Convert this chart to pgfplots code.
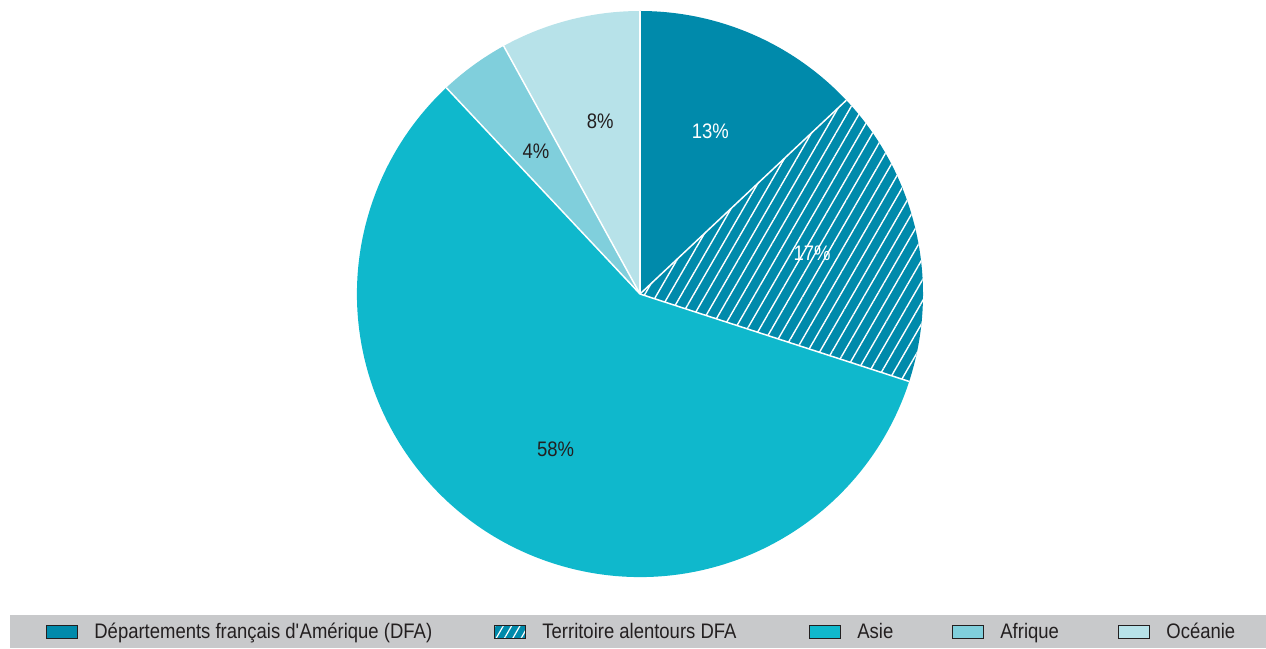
\documentclass[border=0pt]{standalone}
\usepackage{fontspec}
\setmainfont{Liberation Sans}[FakeStretch=0.88]
\usepackage{pgfplots}
\usepackage{pgfplotstable}
\pgfplotsset{compat=1.18}
\usetikzlibrary{patterns.meta,calc}
\definecolor{cDFA}{HTML}{008AAB}
\definecolor{cAsie}{HTML}{0FB8CC}
\definecolor{cAfr}{HTML}{80CFDC}
\definecolor{cOce}{HTML}{B7E2E9}
\definecolor{cLeg}{HTML}{C8C9CB}
\definecolor{cTxt}{HTML}{231F20}

\pgfplotstableread{
idx value
0 13
1 17
2 58
3 4
4 8
}\piedata

\begin{document}
\begin{tikzpicture}
\begin{axis}[width=633pt,height=324pt,scale only axis,
  xmin=0,xmax=1266,ymin=0,ymax=648,hide axis,clip=false]
\pgfplotsextra{
  \path (axis cs:0,0) rectangle (axis cs:1266,648);
  \fontsize{10.5}{12}\selectfont
  \gdef\cur{90}
  \foreach \i/\col/\pat/\tc/\da in {0/cDFA/0/white/0,1/cDFA/1/white/0.8,2/cAsie/0/cTxt/3.9,3/cAfr/0/cTxt/0,4/cOce/0/cTxt/-1.4}{
    \pgfplotstablegetelem{\i}{value}\of\piedata
    \pgfmathsetmacro\sweep{3.6*\pgfplotsretval}
    \pgfmathsetmacro\endang{\cur-\sweep}
    \pgfmathsetmacro\midang{\cur-\sweep/2+\da}
    \fill[\col] (axis cs:640,354) -- ++(\cur:141.5pt) arc[start angle=\cur,end angle=\endang,radius=141.5pt] -- cycle;
    \ifnum\pat=1
      \pattern[pattern={Lines[angle=60,distance=5.3pt,line width=0.7pt]},pattern color=white]
        (axis cs:640,354) -- ++(\cur:141.5pt) arc[start angle=\cur,end angle=\endang,radius=141.5pt] -- cycle;
    \fi
    \node[text=\tc] at ($(axis cs:640,354)+(\midang:88.5pt)$) {\pgfplotsretval\%};
    \xdef\cur{\endang}
  }
  \gdef\cur{90}
  \foreach \i in {0,...,4}{
    \pgfplotstablegetelem{\i}{value}\of\piedata
    \draw[white,line width=0.75pt] (axis cs:640,354) -- ++(\cur:141.5pt);
    \pgfmathsetmacro\endang{\cur-3.6*\pgfplotsretval}
    \xdef\cur{\endang}
  }
  % legend
  \fill[cLeg] (axis cs:10,0) rectangle (axis cs:1266,33);
  \foreach \x/\col/\txt in {46/cDFA/{Départements français d\textquotesingle Amérique (DFA)},494/cDFA/{Territoire alentours DFA},809/cAsie/{Asie},952/cAfr/{Afrique},1118/cOce/{Océanie}}{
    \filldraw[fill=\col,draw=cTxt,line width=0.5pt] (axis cs:\x,10) rectangle (axis cs:\x+31,23);
    \node[anchor=base west,text=cTxt,inner sep=0pt] at (axis cs:\x+48,9.5) {\txt};
  }
  \pattern[pattern={Lines[angle=60,distance=3.6pt,line width=0.6pt]},pattern color=white]
    (axis cs:494,10) rectangle (axis cs:525,23);
  \draw[cTxt,line width=0.5pt] (axis cs:494,10) rectangle (axis cs:525,23);
}
\end{axis}
\end{tikzpicture}
\end{document}
